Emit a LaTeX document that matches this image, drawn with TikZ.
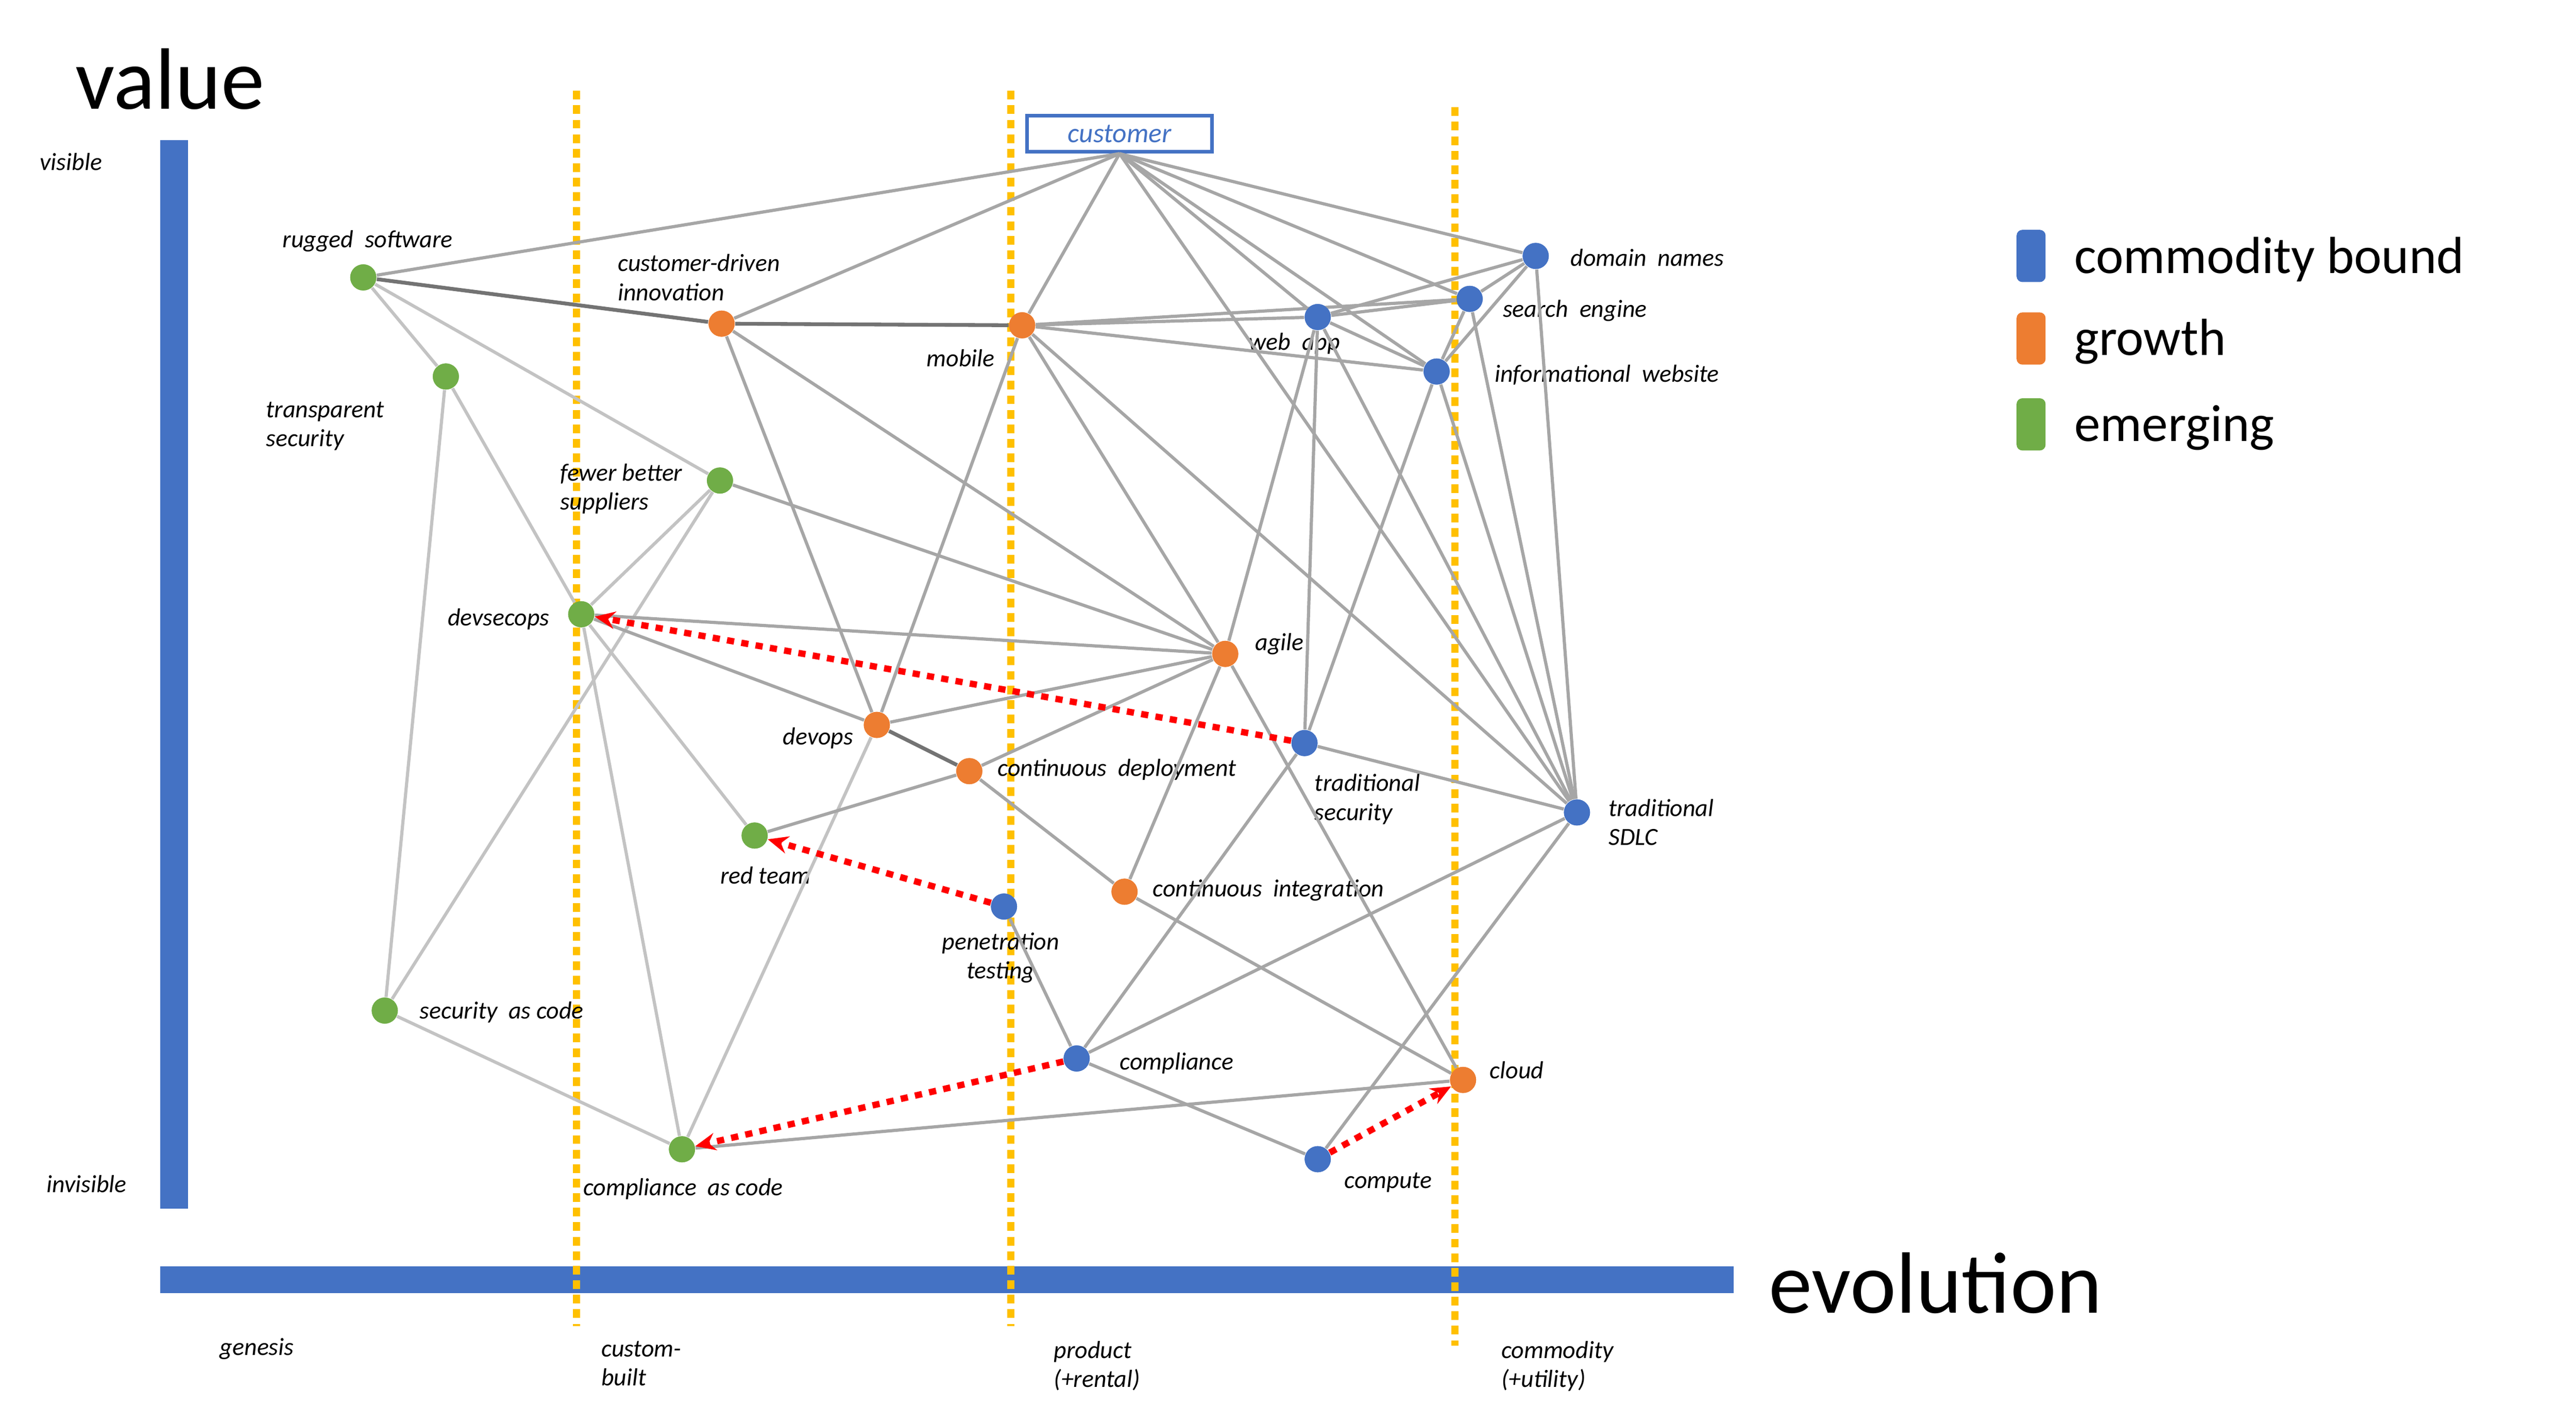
\documentclass[tikz,border=0pt]{standalone}
\usepackage{fontspec}
\setmainfont{Carlito}
\usetikzlibrary{arrows.meta}
\definecolor{cblue}{RGB}{68,114,196}
\definecolor{corange}{RGB}{237,125,49}
\definecolor{cgreen}{RGB}{112,173,71}
\definecolor{cyel}{RGB}{255,192,0}
\definecolor{cgray}{RGB}{166,166,166}
\definecolor{lgray}{RGB}{195,195,195}
\tikzset{
 dot/.style={circle,inner sep=0pt,minimum size=9pt,fill=#1},
 lab/.style={font=\fontsize{8.5}{10}\selectfont\itshape,align=left},
 edge/.style={draw=cgray,line width=1.1pt},
 ledge/.style={draw=lgray,line width=1.1pt},
 dedge/.style={draw=gray!90!black,line width=1.3pt},
 redarr/.style={draw=red,line width=2.2pt,dash pattern=on 2.5pt off 2.5pt,-{Stealth[length=7pt,width=6pt]}},
 yline/.style={draw=cyel,line width=2.5pt,dash pattern=on 3pt off 2pt},
 leg/.style={rounded corners=2pt,minimum width=10pt,minimum height=18pt,inner sep=0pt,fill=#1},
}
\begin{document}
\begin{tikzpicture}[x=0.02cm,y=-0.02cm]
\useasboundingbox (0,0) rectangle (1560,852);
% axes
\fill[cblue] (97,85) rectangle (114,732);
\fill[cblue] (97,767) rectangle (1050,783);
\draw[yline] (349,55)--(349,803);
\draw[yline] (612,55)--(612,803);
\draw[yline] (881,65)--(881,815);
\node[font=\fontsize{30}{34}\selectfont] at (103,48) {value};
\node[font=\fontsize{30}{34}\selectfont,anchor=west] at (1065,777) {evolution};
\node[lab,anchor=west] at (18,98) {visible};
\node[lab,anchor=west] at (22,717) {invisible};
\node[lab,anchor=west] at (127,817) {genesis};
\node[lab,anchor=north west] at (358,806) {custom-\\built};
\node[lab,anchor=north west] at (632,806) {product\\(+rental)};
\node[lab,anchor=north west] at (903,806) {commodity\\(+utility)};
% legend
\node[leg=cblue] (l1) at (1230,155) {};
\node[leg=corange] (l2) at (1230,205) {};
\node[leg=cgreen] (l3) at (1230,257) {};
\node[anchor=west,font=\fontsize{18}{20}\selectfont] at (1250,157) {commodity bound};
\node[anchor=west,font=\fontsize{18}{20}\selectfont] at (1250,207) {growth};
\node[anchor=west,font=\fontsize{18}{20}\selectfont] at (1250,259) {emerging};
% nodes
\node[draw=cblue,line width=1.2pt,fill=white,minimum width=112*0.02cm,minimum height=22*0.02cm,inner sep=0pt,font=\fontsize{9.5}{11}\selectfont\itshape,text=cblue] (cust) at (678,81) {customer};
\coordinate (cs) at (cust.south);
\node[dot=cgreen] (rug) at (220,168) {};
\node[dot=corange] (cdi) at (437,196) {};
\node[dot=corange] (mob) at (619,197) {};
\node[dot=cblue] (web) at (798,192) {};
\node[dot=cblue] (se) at (890,181) {};
\node[dot=cblue] (dn) at (930,155) {};
\node[dot=cblue] (iw) at (870,225) {};
\node[dot=cgreen] (ts) at (270,228) {};
\node[dot=cgreen] (fbs) at (436,291) {};
\node[dot=cgreen] (dso) at (352,372) {};
\node[dot=corange] (agi) at (742,396) {};
\node[dot=corange] (dvo) at (531,439) {};
\node[dot=corange] (cd) at (587,467) {};
\node[dot=cblue] (tsec) at (790,450) {};
\node[dot=cblue] (sdlc) at (955,492) {};
\node[dot=cgreen] (rt) at (457,506) {};
\node[dot=corange] (ci) at (681,540) {};
\node[dot=cblue] (pt) at (608,549) {};
\node[dot=cgreen] (sac) at (233,612) {};
\node[dot=cblue] (comp) at (652,641) {};
\node[dot=corange] (cl) at (886,654) {};
\node[dot=cgreen] (cac) at (413,696) {};
\node[dot=cblue] (cmp) at (798,702) {};
% labels
\node[lab,anchor=west] at (165,146) {rugged\ \ software};
\node[lab,anchor=west] at (368,168) {customer-driven\\innovation};
\node[lab,anchor=west] at (555,217) {mobile};
\node[lab,anchor=west] at (750,208) {web\ \ app};
\node[lab,anchor=west] at (904,188) {search\ \ engine};
\node[lab,anchor=west] at (945,156) {domain\ \ names};
\node[lab,anchor=west] at (899,227) {informational\ \ website};
\node[lab,anchor=west] at (155,258) {transparent\\security};
\node[lab,anchor=west] at (333,296) {fewer better\\suppliers};
\node[lab,anchor=west] at (265,375) {devsecops};
\node[lab,anchor=west] at (754,390) {agile};
\node[lab,anchor=west] at (468,447) {devops};
\node[lab,anchor=west] at (598,466) {continuous\ \ deployment};
\node[lab,anchor=west] at (790,484) {traditional\\security};
\node[lab,anchor=west] at (968,498) {traditional\\SDLC};
\node[lab,anchor=west] at (430,530) {red team};
\node[lab,anchor=west] at (692,539) {continuous\ \ integration};
\node[lab,align=center] at (606,580) {penetration\\testing};
\node[lab,anchor=west] at (248,613) {security\ \ as code};
\node[lab,anchor=west] at (672,644) {compliance};
\node[lab,anchor=west] at (896,648) {cloud};
\node[lab,anchor=west] at (347,720) {compliance\ \ as code};
\node[lab,anchor=west] at (808,716) {compute};
% edges
\foreach \a/\b in {rug/ts,rug/fbs,ts/dso,ts/sac,fbs/dso,fbs/sac,dso/rt,dso/cac,dvo/cac,sac/cac}
 {\draw[ledge] (\a)--(\b);}
\foreach \b in {rug,cdi,mob,web,iw,se,dn,sdlc}
 {\draw[edge] (cs)--(\b);}
\foreach \a/\b in {fbs/agi,cdi/dvo,cdi/agi,
 mob/dvo,mob/web,mob/se,mob/iw,mob/agi,mob/sdlc,
 web/dn,web/se,web/iw,web/tsec,web/agi,web/sdlc,se/dn,se/iw,se/sdlc,dn/iw,dn/sdlc,
 iw/tsec,iw/sdlc,tsec/comp,
 dso/agi,dso/dvo,dvo/agi,cd/ci,agi/cd,cd/rt,agi/ci,agi/cl,
 tsec/sdlc,sdlc/comp,sdlc/cmp,comp/cmp,comp/pt,ci/cl,cac/cl}
 {\draw[edge] (\a)--(\b);}
\draw[dedge] (rug)--(cdi);
\draw[dedge] (cdi)--(mob);
\draw[dedge] (dvo)--(cd);
% dots on top
\foreach \n/\c in {rug/cgreen,cdi/corange,mob/corange,web/cblue,se/cblue,dn/cblue,iw/cblue,ts/cgreen,fbs/cgreen,dso/cgreen,agi/corange,dvo/corange,cd/corange,tsec/cblue,sdlc/cblue,rt/cgreen,ci/corange,pt/cblue,sac/cgreen,comp/cblue,cl/corange,cac/cgreen,cmp/cblue}
 {\fill[\c] (\n) circle (4.5pt);}
% red arrows
\draw[redarr] (tsec)--(dso);
\draw[redarr] (pt)--(rt);
\draw[redarr] (comp)--(cac);
\draw[redarr] (cmp)--(cl);
\end{tikzpicture}
\end{document}
